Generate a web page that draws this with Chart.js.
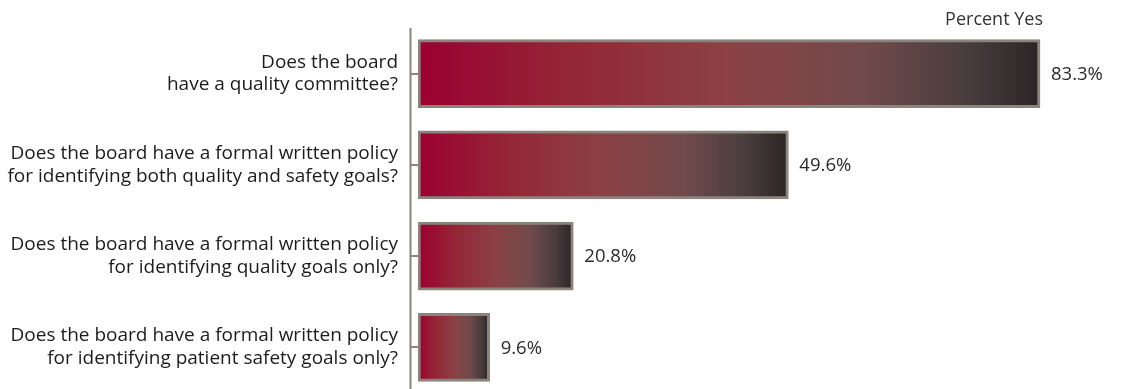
<!DOCTYPE html>
<html lang="en">
<head>
    <meta charset="UTF-8">
    <title>Board Quality Oversight - Percent Yes</title>
    <script src="https://cdn.jsdelivr.net/npm/chart.js"></script>
    <style>
        html, body {
            margin: 0;
            padding: 0;
            background: #ffffff;
            overflow: hidden;
        }
        .chart-box {
            position: relative;
            width: 1145px;
            height: 393px;
        }
    </style>
</head>
<body>
    <div class="chart-box">
        <canvas id="boardChart"></canvas>
    </div>

    <script>
        // survey questions (two lines each) and share answering yes
        const questions = [
            ['Does the board', 'have a quality committee?'],
            ['Does the board have a formal written policy', 'for identifying both quality and safety goals?'],
            ['Does the board have a formal written policy', 'for identifying quality goals only?'],
            ['Does the board have a formal written policy', 'for identifying patient safety goals only?']
        ];
        const percentYes = [83.3, 49.6, 20.8, 9.6];
        const axisTitle = 'Percent Yes';

        const edgeGray = '#8b847c';
        const labelFont = "'Open Sans', sans-serif";

        // red to charcoal fade, stretched over each bar on its own
        function barFill(ctx) {
            const chart = ctx.chart;
            if (!chart.chartArea || ctx.type !== 'data') return '#8b4146';
            const x = chart.scales.x;
            const x0 = x.getPixelForValue(0);
            const x1 = x.getPixelForValue(ctx.raw);
            const g = chart.ctx.createLinearGradient(x0, 0, x1, 0);
            g.addColorStop(0, '#9b0031');
            g.addColorStop(0.25, '#942736');
            g.addColorStop(0.5, '#8b4146');
            g.addColorStop(0.72, '#714a4b');
            g.addColorStop(0.88, '#4a3d3e');
            g.addColorStop(1, '#2a2526');
            return g;
        }

        // axis spine with short stubs running to each bar
        const spinePlugin = {
            id: 'spine',
            beforeDatasetsDraw(chart) {
                const {ctx, chartArea, scales} = chart;
                const sx = chartArea.left - 7.5;
                ctx.save();
                ctx.strokeStyle = edgeGray;
                ctx.lineWidth = 2;
                ctx.beginPath();
                ctx.moveTo(sx, chartArea.top);
                ctx.lineTo(sx, chartArea.bottom);
                questions.forEach((q, i) => {
                    const y = Math.round(scales.y.getPixelForValue(i));
                    ctx.moveTo(sx, y);
                    ctx.lineTo(chartArea.left, y);
                });
                ctx.stroke();
                ctx.restore();
            }
        };

        // value text to the right of every bar
        const valuePlugin = {
            id: 'values',
            afterDatasetsDraw(chart) {
                const {ctx} = chart;
                const meta = chart.getDatasetMeta(0);
                ctx.save();
                ctx.font = "18.5px " + labelFont;
                ctx.fillStyle = '#2b2b2b';
                ctx.textBaseline = 'middle';
                ctx.textAlign = 'left';
                meta.data.forEach((bar, i) => {
                    ctx.fillText(percentYes[i].toFixed(1) + '%', bar.x + 11, bar.y + 1);
                });
                ctx.restore();
            }
        };

        new Chart(document.getElementById('boardChart'), {
            type: 'bar',
            data: {
                labels: questions,
                datasets: [{
                    label: axisTitle,
                    data: percentYes,
                    backgroundColor: barFill,
                    borderColor: edgeGray,
                    borderWidth: 3,
                    borderSkipped: false,
                    barThickness: 68
                }]
            },
            options: {
                indexAxis: 'y',
                responsive: true,
                maintainAspectRatio: false,
                animation: false,
                layout: {padding: {left: 0, right: 102, top: 0, bottom: 0}},
                plugins: {
                    legend: {display: false},
                    tooltip: {enabled: false}
                },
                scales: {
                    x: {
                        position: 'top',
                        min: 0,
                        max: 83.7,
                        grid: {display: false},
                        border: {display: false},
                        ticks: {display: false},
                        title: {
                            display: true,
                            text: axisTitle,
                            align: 'end',
                            color: '#333333',
                            font: {family: labelFont, size: 18},
                            padding: {top: 9, bottom: 0}
                        },
                        afterFit(scale) { scale.height = 28; }
                    },
                    y: {
                        grid: {display: false, drawTicks: false},
                        border: {display: false},
                        ticks: {
                            color: '#1e1b1c',
                            padding: 20,
                            font: {family: labelFont, size: 19, lineHeight: 1.2}
                        },
                        afterFit(scale) {
                            scale.width = 418;
                            scale.paddingTop = 0;
                            scale.paddingBottom = 0;
                        }
                    }
                }
            },
            plugins: [spinePlugin, valuePlugin]
        });
    </script>
</body>
</html>
